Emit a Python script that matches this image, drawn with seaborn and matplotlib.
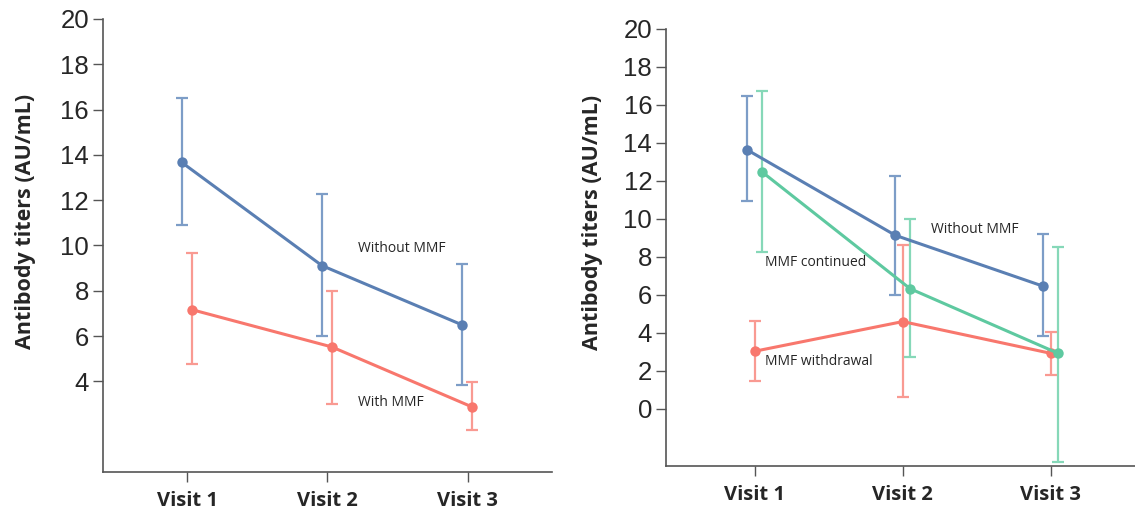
import numpy as np
import pandas as pd
import matplotlib
matplotlib.use("Agg")
import matplotlib.pyplot as plt
import seaborn as sns

# Data
visits = ["Visit 1", "Visit 2", "Visit 3"]

# left panel
left_without = [13.67, 9.11, 6.49]
left_without_lo = [10.89, 6.02, 3.84]
left_without_hi = [16.53, 12.29, 9.17]
left_with = [7.17, 5.52, 2.87]
left_with_lo = [4.77, 3.02, 1.84]
left_with_hi = [9.67, 7.99, 3.96]

# right panel
right_without = [13.63, 9.14, 6.46]
right_without_lo = [10.93, 6.00, 3.86]
right_without_hi = [16.49, 12.28, 9.19]
right_continued = [12.47, 6.33, 2.93]
right_continued_lo = [8.26, 2.74, -2.77]
right_continued_hi = [16.74, 10.02, 8.53]
right_withdrawal = [3.04, 4.60, 2.93]
right_withdrawal_lo = [1.47, 0.63, 1.79]
right_withdrawal_hi = [4.65, 8.63, 4.05]

BLUE, BLUE_EB = "#5a7fb3", "#7d9dc7"
RED, RED_EB = "#f8776d", "#f99a92"
GREEN, GREEN_EB = "#5ec9a0", "#86d8b8"

sns.set_style("white")

fig = plt.figure(figsize=(11.35, 5.13), dpi=100)
ax1 = fig.add_axes([0.0906, 0.080, 0.3956, 0.883])
ax2 = fig.add_axes([0.5868, 0.0916, 0.4132, 0.852])


def draw_group(ax, vals, lo, hi, name, color, eb_color, shift):
    x = np.arange(len(visits)) + shift
    df = pd.DataFrame({"x": x, "y": vals, "group": name})
    vals = np.array(vals)
    yerr = [vals - np.array(lo), np.array(hi) - vals]
    ax.errorbar(x, vals, yerr=yerr, fmt="none", ecolor=eb_color,
                elinewidth=1.6, capsize=4, capthick=1.6, zorder=2)
    sns.lineplot(data=df, x="x", y="y", ax=ax, color=color, linewidth=2.2,
                 marker="o", markersize=7.5, markeredgewidth=0, zorder=3,
                 legend=False)


draw_group(ax1, left_without, left_without_lo, left_without_hi,
           "Without MMF", BLUE, BLUE_EB, -0.038)
draw_group(ax1, left_with, left_with_lo, left_with_hi,
           "With MMF", RED, RED_EB, 0.032)

draw_group(ax2, right_without, right_without_lo, right_without_hi,
           "Without MMF", BLUE, BLUE_EB, -0.05)
draw_group(ax2, right_withdrawal, right_withdrawal_lo, right_withdrawal_hi,
           "MMF withdrawal", RED, RED_EB, 0.0)
draw_group(ax2, right_continued, right_continued_lo, right_continued_hi,
           "MMF continued", GREEN, GREEN_EB, 0.05)

ax1.set_xlim(-0.6, 2.6)
ax1.set_ylim(0, 20)
ax1.set_yticks(range(4, 21, 2))
ax2.set_xlim(-0.6, 2.57)
ax2.set_ylim(-3, 20)
ax2.set_yticks(range(0, 21, 2))

for ax in (ax1, ax2):
    ax.set_xticks(range(len(visits)))
    ax.set_xticklabels(visits, fontsize=14.5, fontweight="bold",
                       family="Open Sans")
    for lab in ax.get_yticklabels():
        lab.set_family("Liberation Sans")
        lab.set_fontsize(18.5)
    ax.set_xlabel("")
    ax.set_ylabel("Antibody titers (AU/mL)", fontsize=15.5, fontweight="bold",
                  family="Open Sans")
    ax.tick_params(axis="x", bottom=True, direction="out", length=7, width=1,
                   color="#555555", pad=7)
    ax.tick_params(axis="y", left=True, direction="out", length=7, width=1,
                   color="#555555", pad=3)
    ax.spines["top"].set_visible(False)
    ax.spines["right"].set_visible(False)
    for s in ("left", "bottom"):
        ax.spines[s].set_color("#555555")
        ax.spines[s].set_linewidth(1.2)
    ax.grid(False)

ax1.yaxis.set_label_coords(-0.149, 0.552)
ax2.yaxis.set_label_coords(-0.135, 0.558)

# group labels
ax1.text(1.22, 9.7, "Without MMF", fontsize=10, family="Open Sans")
ax1.text(1.22, 2.9, "With MMF", fontsize=10, family="Open Sans")
ax2.text(1.19, 9.25, "Without MMF", fontsize=10, family="Open Sans")
ax2.text(0.07, 7.5, "MMF continued", fontsize=10, family="Open Sans")
ax2.text(0.07, 2.3, "MMF withdrawal", fontsize=10, family="Open Sans")

fig.savefig("out.png", dpi=100)
